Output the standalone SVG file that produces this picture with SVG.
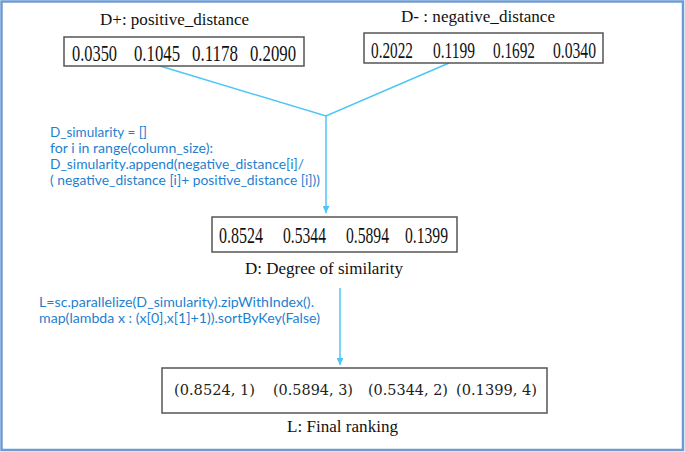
<svg xmlns="http://www.w3.org/2000/svg" width="685" height="452" viewBox="0 0 685 452">
<style>
.frame{fill:#fff;stroke:#6f9bd3;stroke-width:2.5}
.box{fill:#fff;stroke:#555;stroke-width:1.5}
.num{font-family:"Liberation Serif",serif;font-size:23px;fill:#111}
.lbl{font-family:"Liberation Serif",serif;font-size:16.5px;fill:#111}
.rank{font-family:"DejaVu Serif","Liberation Serif",serif;font-size:15px;fill:#222}
.code{font-family:Lato,"Open Sans",sans-serif;font-size:14px;fill:#1f7fd0}
.conn{stroke:#4cc6f5;stroke-width:1.5;fill:none}
</style>
<defs>
<marker id="ah" viewBox="0 0 10 10" refX="10" refY="5" markerWidth="7" markerHeight="7" markerUnits="userSpaceOnUse" orient="auto">
<path d="M0,0 L10,5 L0,10 z" fill="#4cc6f5"/>
</marker>
</defs>
<rect class="frame" x="1.5" y="1.5" width="681.5" height="448.5"/>
<g id="connectors">
<polyline class="conn" points="160,66 326,116 449,63"/>
<line class="conn" x1="326" y1="116" x2="326" y2="213" marker-end="url(#ah)"/>
<line class="conn" x1="340" y1="288" x2="340" y2="365" marker-end="url(#ah)"/>
</g>
<g id="positive">
<text class="lbl" x="100" y="25" textLength="149" lengthAdjust="spacingAndGlyphs">D+: positive_distance</text>
<rect class="box" x="64" y="37" width="240" height="29"/>
<text class="num" x="72" y="61" textLength="45" lengthAdjust="spacingAndGlyphs">0.0350</text>
<text class="num" x="134" y="61" textLength="46" lengthAdjust="spacingAndGlyphs">0.1045</text>
<text class="num" x="192" y="61" textLength="46" lengthAdjust="spacingAndGlyphs">0.1178</text>
<text class="num" x="250" y="61" textLength="46" lengthAdjust="spacingAndGlyphs">0.2090</text>
</g>
<g id="negative">
<text class="lbl" x="401" y="22" textLength="154" lengthAdjust="spacingAndGlyphs">D- : negative_distance</text>
<rect class="box" x="364" y="33" width="239" height="30"/>
<text class="num" x="371" y="58" textLength="42" lengthAdjust="spacingAndGlyphs">0.2022</text>
<text class="num" x="433" y="58" textLength="42" lengthAdjust="spacingAndGlyphs">0.1199</text>
<text class="num" x="493" y="58" textLength="42" lengthAdjust="spacingAndGlyphs">0.1692</text>
<text class="num" x="553" y="58" textLength="43" lengthAdjust="spacingAndGlyphs">0.0340</text>
</g>
<g id="code1">
<text class="code" x="50" y="137" textLength="97" lengthAdjust="spacingAndGlyphs">D_simularity = []</text>
<text class="code" x="50" y="153" textLength="163" lengthAdjust="spacingAndGlyphs">for i in range(column_size):</text>
<text class="code" x="50" y="169" textLength="254" lengthAdjust="spacingAndGlyphs">D_simularity.append(negative_distance[i]/</text>
<text class="code" x="50" y="185" textLength="270" lengthAdjust="spacingAndGlyphs">( negative_distance [i]+ positive_distance [i]))</text>
</g>
<g id="similarity">
<rect class="box" x="212" y="217" width="245" height="35"/>
<text class="num" x="219" y="243" textLength="44" lengthAdjust="spacingAndGlyphs">0.8524</text>
<text class="num" x="283" y="243" textLength="43" lengthAdjust="spacingAndGlyphs">0.5344</text>
<text class="num" x="346" y="243" textLength="43" lengthAdjust="spacingAndGlyphs">0.5894</text>
<text class="num" x="405" y="243" textLength="43" lengthAdjust="spacingAndGlyphs">0.1399</text>
<text class="lbl" x="245" y="274" textLength="158" lengthAdjust="spacingAndGlyphs">D: Degree of similarity</text>
</g>
<g id="code2">
<text class="code" x="39" y="307" textLength="275" lengthAdjust="spacingAndGlyphs">L=sc.parallelize(D_simularity).zipWithIndex().</text>
<text class="code" x="39" y="323" textLength="281" lengthAdjust="spacingAndGlyphs">map(lambda x : (x[0],x[1]+1)).sortByKey(False)</text>
</g>
<g id="ranking">
<rect class="box" x="162" y="368" width="385" height="45"/>
<text class="rank" x="174" y="395" textLength="81" lengthAdjust="spacingAndGlyphs">(0.8524, 1)</text>
<text class="rank" x="273" y="395" textLength="80" lengthAdjust="spacingAndGlyphs">(0.5894, 3)</text>
<text class="rank" x="368" y="395" textLength="80" lengthAdjust="spacingAndGlyphs">(0.5344, 2)</text>
<text class="rank" x="456" y="395" textLength="81" lengthAdjust="spacingAndGlyphs">(0.1399, 4)</text>
<text class="lbl" x="287" y="432" textLength="111" lengthAdjust="spacingAndGlyphs">L: Final ranking</text>
</g>
</svg>
